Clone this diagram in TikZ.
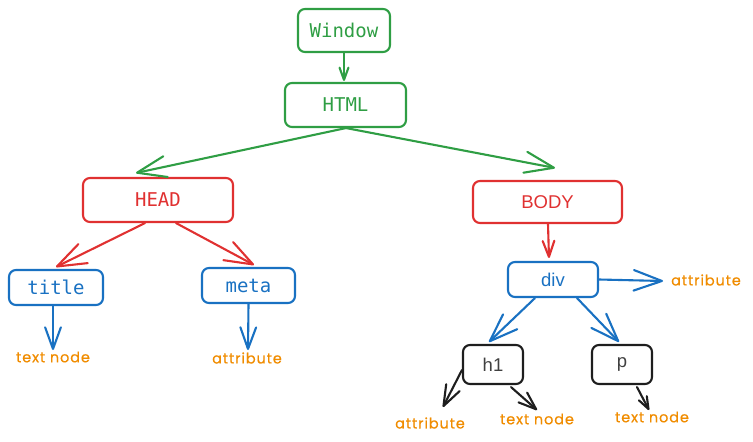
\documentclass[tikz,border=0pt]{standalone}
\usepackage{fontspec}
\usetikzlibrary{arrows.meta}
\newfontfamily\monof{DejaVu Sans Mono}
\newfontfamily\sansf{Liberation Sans}
\newfontfamily\handf[LetterSpace=6,FakeBold=0.6]{Poppins}
\definecolor{cgreen}{HTML}{2F9E44}
\definecolor{cred}{HTML}{E03131}
\definecolor{cblue}{HTML}{1971C2}
\definecolor{cblack}{HTML}{1E1E1E}
\definecolor{corange}{HTML}{F08C00}
\tikzset{
  box/.style={draw, line width=2.1pt, rounded corners=7pt, inner sep=0pt, align=center},
  monobox/.style={box, font=\monof\fontsize{19}{21}\selectfont},
  sansbox/.style={box, font=\sansf\fontsize{18.5}{21}\selectfont},
  lbl/.style={text=corange, inner sep=0pt, font=\handf\fontsize{14.5}{16}\selectfont},
  arr/.style={line width=2.1pt, line cap=round, line join=round, -{Straight Barb[angle=40:#1, line width=2.1pt, round]}},
}
\begin{document}
\begin{tikzpicture}[x=1pt,y=-1pt]
\useasboundingbox (0,0) rectangle (753,442);
% nodes
\node[monobox, draw=cgreen, text=cgreen, minimum width=92pt, minimum height=43pt] (win) at (344,30.5) {Window};
\node[monobox, draw=cgreen, text=cgreen, minimum width=121pt, minimum height=44pt] (html) at (345.5,105) {HTML};
\node[monobox, draw=cred, text=cred, minimum width=150pt, minimum height=44pt] (head) at (158,200) {HEAD};
\node[sansbox, draw=cred, text=cred, minimum width=149pt, minimum height=42pt] (body) at (547.5,202) {BODY};
\node[monobox, draw=cblue, text=cblue, minimum width=94pt, minimum height=35pt] (title) at (56,287.5) {title};
\node[monobox, draw=cblue, text=cblue, minimum width=93pt, minimum height=35pt] (meta) at (248.5,285.5) {meta};
\node[sansbox, draw=cblue, text=cblue, minimum width=90pt, minimum height=35pt] (div) at (553,279.5) {div};
\node[sansbox, draw=cblack, text=cblack!85, minimum width=60pt, minimum height=39pt] (h1) at (493,364.5) {h1};
\node[sansbox, draw=cblack, text=cblack!85, minimum width=60pt, minimum height=39pt] (p) at (622,364.5) {p};
% labels
\node[lbl] (tn1) at (53,357) {text node};
\node[lbl] (at1) at (247,358) {attribute};
\node[lbl] (at2) at (706,280) {attribute};
\node[lbl] (at3) at (430,423) {attribute};
\node[lbl] (tn2) at (537,419) {text node};
\node[lbl] (tn3) at (652,417) {text node};
% arrows
\draw[arr=13pt, cgreen] (win.south) -- ([xshift=-1.5pt,yshift=1pt]html.north);
\draw[arr=31pt, cgreen] ([xshift=0.5pt]html.south) -- ([xshift=-22pt,yshift=4pt]head.north);
\draw[arr=31pt, cgreen] ([xshift=0.5pt]html.south) -- ([xshift=7.5pt,yshift=12pt]body.north);
\draw[arr=31pt, cred] ([xshift=-13pt]head.south) -- ([yshift=2pt]title.north);
\draw[arr=30pt, cred] ([xshift=18pt]head.south) -- ([xshift=5.5pt,yshift=2pt]meta.north);
\draw[arr=17pt, cred] ([xshift=0.5pt]body.south) -- ([xshift=-4pt,yshift=3pt]div.north);
\draw[arr=23pt, cblue] ([xshift=-3pt]title.south) -- ([yshift=7pt]tn1.center);
\draw[arr=23pt, cblue] (meta.south) -- ([xshift=1pt,yshift=8pt]at1.center);
\draw[arr=30pt, cblue] (div.east) -- ([xshift=-43pt,yshift=-1pt]at2.center);
\draw[arr=30pt, cblue] ([xshift=-18pt]div.south) -- ([xshift=-4pt,yshift=2pt]h1.north);
\draw[arr=30pt, cblue] ([xshift=24pt]div.south) -- ([xshift=-3pt,yshift=2pt]p.north);
\draw[arr=22pt, cblack] ([yshift=-5.5pt]h1.west) -- ([xshift=13pt,yshift=16pt]at3.center);
\draw[arr=19pt, cblack] ([xshift=18pt,yshift=-2pt]h1.south) -- ([yshift=9pt]tn2.center);
\draw[arr=13pt, cblack] ([xshift=15pt,yshift=-2pt]p.south) -- ([xshift=-3pt,yshift=7pt]tn3.center);
\end{tikzpicture}
\end{document}
